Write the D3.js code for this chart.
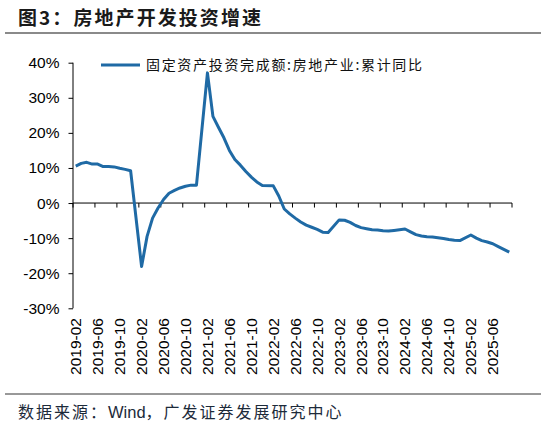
<!DOCTYPE html>
<html><head><meta charset="utf-8">
<script src="https://cdn.jsdelivr.net/npm/d3@7"></script>
<style>
html,body{margin:0;padding:0;background:#fff;}
svg{display:block;}
</style></head>
<body>
<svg id="c" width="546" height="422"></svg>
<script>
// ---- data ----
const title = "图3：房地产开发投资增速";
const seriesName = "固定资产投资完成额:房地产业:累计同比";
const sourceParts = ["数据来源：", "Wind", "，广发证券发展研究中心"];
const months = [
 "2019-02","2019-03","2019-04","2019-05","2019-06","2019-07","2019-08","2019-09","2019-10","2019-11","2019-12",
 "2020-02","2020-03","2020-04","2020-05","2020-06","2020-07","2020-08","2020-09","2020-10","2020-11","2020-12",
 "2021-02","2021-03","2021-04","2021-05","2021-06","2021-07","2021-08","2021-09","2021-10","2021-11","2021-12",
 "2022-02","2022-03","2022-04","2022-05","2022-06","2022-07","2022-08","2022-09","2022-10","2022-11","2022-12",
 "2023-02","2023-03","2023-04","2023-05","2023-06","2023-07","2023-08","2023-09","2023-10","2023-11","2023-12",
 "2024-02","2024-03","2024-04","2024-05","2024-06","2024-07","2024-08","2024-09","2024-10","2024-11","2024-12",
 "2025-02","2025-03","2025-04","2025-05","2025-06","2025-07","2025-08","2025-09"];
const values = [
 10.5, 11.3, 11.6, 11.1, 11.1, 10.4, 10.4, 10.3, 9.9, 9.6, 9.2,
 -18.1, -9.5, -4.3, -1.4, 1.0, 2.8, 3.6, 4.3, 4.8, 5.1, 5.1,
 37.1, 24.7, 21.6, 18.6, 15.0, 12.4, 10.8, 9.0, 7.4, 6.0, 5.0,
 4.9, 2.0, -1.7, -3.1, -4.3, -5.4, -6.3, -6.9, -7.5, -8.3, -8.4,
 -4.8, -4.9, -5.5, -6.4, -7.0, -7.3, -7.6, -7.7, -7.9, -8.0, -7.8,
 -7.4, -8.2, -9.0, -9.4, -9.6, -9.7, -9.9, -10.1, -10.4, -10.6, -10.7,
 -9.1, -10.0, -10.7, -11.1, -11.6, -12.4, -13.2, -14.0];
const xTickLabels = ["2019-02","2019-06","2019-10","2020-02","2020-06","2020-10","2021-02","2021-06","2021-10",
 "2022-02","2022-06","2022-10","2023-02","2023-06","2023-10","2024-02","2024-06","2024-10","2025-02","2025-06"];
const yTicks = [40,30,20,10,0,-10,-20,-30];

// ---- layout ----
const L = 73, R = 512, T = 62.7, B = 308.3;
const color = "#1f6aa5";
const numFont = "'Liberation Sans', Arial, sans-serif";
const cjkFont = "'Noto Sans CJK SC', 'Noto Sans', sans-serif";

// full calendar of months on the axis (date axis, Jan included)
const parse = d3.timeParse("%Y-%m");
const fmt = d3.timeFormat("%Y-%m");
const allMonths = d3.timeMonth.range(parse("2019-02"), d3.timeMonth.offset(parse("2025-09"),1)).map(fmt);

const x = d3.scaleBand().domain(allMonths).range([L, R]).paddingInner(0).paddingOuter(0);
const y = d3.scaleLinear().domain([-30, 40]).range([B, T]);
const cx = m => x(m) + x.bandwidth()/2;

const svg = d3.select("#c");

// title
svg.append("text").attr("x", 18).attr("y", 25)
  .attr("font-family", cjkFont).attr("font-weight", "bold").attr("font-size", 19)
  .attr("fill", "#1a1a1a").attr("textLength", 243).attr("lengthAdjust", "spacing")
  .text(title);
svg.append("line").attr("x1", 5).attr("x2", 541).attr("y1", 33).attr("y2", 33)
  .attr("stroke", "#8a8a8a").attr("stroke-width", 2);

// y axis
const yAxis = d3.axisLeft(y).tickValues(yTicks).tickSize(4.5).tickPadding(9)
  .tickFormat(d => d + "%");
const gy = svg.append("g").attr("transform", `translate(${L},0)`).call(yAxis);
gy.select(".domain").attr("stroke", "#000").attr("d", `M0,${T}V${B}`);
gy.selectAll(".tick line").attr("stroke", "#000");
gy.selectAll(".tick text").attr("font-family", numFont).attr("font-size", 15.5).attr("fill", "#000");

// x axis at zero
const tickMonths = xTickLabels;
const xAxis = d3.axisBottom(x).tickValues(tickMonths).tickSize(0).tickFormat("");
const gx = svg.append("g").attr("transform", `translate(0,${y(0)})`).call(xAxis);
gx.select(".domain").attr("stroke", "#000").attr("d", `M${L},0H${R}`);
gx.selectAll(".tick").remove();
const tickPos = tickMonths.map(m => x(m)).concat([R]);
gx.selectAll("line.t").data(tickPos).enter().append("line")
  .attr("x1", d => d).attr("x2", d => d).attr("y1", 0).attr("y2", 4.5)
  .attr("stroke", "#000");

// x tick labels (rotated)
svg.append("g").selectAll("text").data(xTickLabels).enter().append("text")
  .attr("transform", d => `translate(${cx(d)},318) rotate(-90)`)
  .attr("text-anchor", "end").attr("dy", "0.35em")
  .attr("font-family", numFont).attr("font-size", 15.5).attr("fill", "#000")
  .text(d => d);

// line
const data = months.map((m, i) => ({m, v: values[i]}));
svg.append("path").datum(data)
  .attr("fill", "none").attr("stroke", color).attr("stroke-width", 3)
  .attr("stroke-linejoin", "round").attr("stroke-linecap", "butt")
  .attr("d", d3.line().x(d => cx(d.m)).y(d => y(d.v)));

// legend
svg.append("line").attr("x1", 101).attr("x2", 140).attr("y1", 65).attr("y2", 65)
  .attr("stroke", color).attr("stroke-width", 3);
svg.append("text").attr("x", 146).attr("y", 65).attr("dy", "0.36em")
  .attr("font-family", cjkFont).attr("font-size", 14).attr("fill", "#111")
  .attr("textLength", 276).attr("lengthAdjust", "spacing")
  .text(seriesName);

// footer
svg.append("line").attr("x1", 5).attr("x2", 541).attr("y1", 394).attr("y2", 394)
  .attr("stroke", "#333").attr("stroke-width", 1);
const ft = svg.append("text").attr("x", 18).attr("y", 412).attr("dy", "0.36em")
  .attr("font-family", cjkFont).attr("font-size", 16).attr("fill", "#1c2a3a");
ft.append("tspan").attr("letter-spacing", 2).text(sourceParts[0]);
ft.append("tspan").attr("font-family", numFont).attr("letter-spacing", 0).attr("font-size", 16.5).text(sourceParts[1]);
ft.append("tspan").attr("letter-spacing", 2).text(sourceParts[2]);
</script>
</body></html>
